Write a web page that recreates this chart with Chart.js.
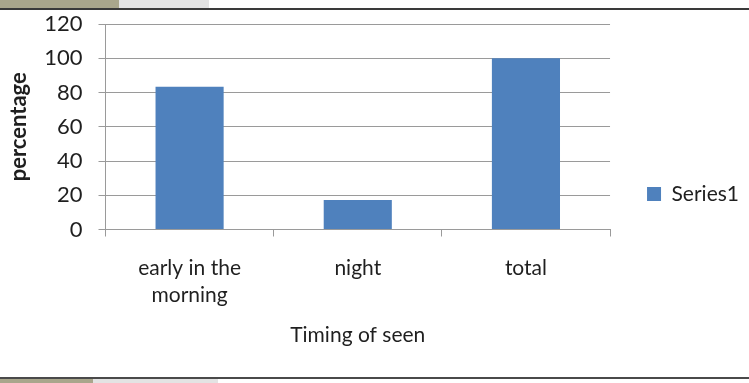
<!DOCTYPE html>
<html>
<head>
<meta charset="utf-8">
<script src="https://cdn.jsdelivr.net/npm/chart.js@4"></script>
<style>
  html, body { margin: 0; padding: 0; background: #fff; }
  #wrap { position: relative; width: 749px; height: 383px; overflow: hidden; background: #fff; }
  #c { position: absolute; left: 0; top: 0; }
  .strip { position: absolute; }
</style>
</head>
<body>
<div id="wrap">
  <canvas id="c" width="749" height="383"></canvas>
  <!-- slide frame: top and bottom rules with colour tabs -->
  <div class="strip" style="left:0;top:0;width:119px;height:8px;background:#a9a68c"></div>
  <div class="strip" style="left:119px;top:0;width:90px;height:8px;background:#e3e3e3"></div>
  <div class="strip" style="left:0;top:8px;width:749px;height:2px;background:#3a3a3a"></div>
  <div class="strip" style="left:0;top:377px;width:749px;height:2px;background:#4a4a4a"></div>
  <div class="strip" style="left:0;top:379px;width:93px;height:4px;background:#a9a68c"></div>
  <div class="strip" style="left:93px;top:379px;width:125px;height:4px;background:#e3e3e3"></div>
</div>
<script>
// Share of sightings by time of day
const categories = [["early in the", "morning"], "night", "total"];
const seriesName = "Series1";
const seriesValues = [83.3, 17.2, 100];
const yTickValues = [0, 20, 40, 60, 80, 100, 120];
const xTitle = "Timing of seen";
const yTitle = "percentage";

const FONT = 'Lato, "Open Sans", "DejaVu Sans", sans-serif';
const TEXT = '#1f1f1f';
const GRID = '#9a9a9a';
const BAR = '#4f81bd';

const PLOT_LEFT = 105.5;
const PLOT_BOTTOM = 229.5;
const CANVAS_H = 383;
const PAD_TOP = 24;
const PAD_BOTTOM = 19;

new Chart(document.getElementById('c'), {
  type: 'bar',
  data: {
    labels: categories,
    datasets: [{
      label: seriesName,
      data: seriesValues,
      backgroundColor: BAR,
      borderWidth: 0,
      barPercentage: 0.405,
      categoryPercentage: 1.0
    }]
  },
  options: {
    responsive: false,
    animation: false,
    devicePixelRatio: 1,
    layout: { padding: { left: 0, top: PAD_TOP, right: 0, bottom: PAD_BOTTOM } },
    plugins: {
      legend: {
        position: 'right',
        labels: {
          boxWidth: 14,
          boxHeight: 14,
          padding: 37,
          color: TEXT,
          font: { family: FONT, size: 21 }
        }
      },
      tooltip: { enabled: false }
    },
    scales: {
      x: {
        grid: { display: true, drawOnChartArea: false, offset: true, tickLength: 7, color: GRID, lineWidth: 1 },
        border: { color: GRID, width: 1 },
        ticks: {
          padding: 18,
          maxRotation: 0,
          autoSkip: false,
          color: TEXT,
          font: { family: FONT, size: 21, lineHeight: 1.3 }
        },
        title: {
          display: true,
          text: xTitle,
          color: TEXT,
          font: { family: FONT, size: 21 },
          padding: { top: 0, bottom: 16.5 }
        },
        afterFit(scale) { scale.height = CANVAS_H - PAD_BOTTOM - PLOT_BOTTOM; }
      },
      y: {
        min: 0,
        max: 120,
        afterBuildTicks(scale) { scale.ticks = yTickValues.map(v => ({ value: v })); },
        grid: { color: GRID, tickLength: 7, lineWidth: 1 },
        border: { color: GRID, width: 1 },
        ticks: {
          padding: 16,
          color: TEXT,
          font: { family: FONT, size: 22 }
        },
        title: {
          display: true,
          text: yTitle,
          color: TEXT,
          font: { family: FONT, size: 22, weight: 'bold' },
          padding: { top: 5.3, bottom: 0 }
        },
        afterFit(scale) {
          scale.width = PLOT_LEFT;
          scale.paddingTop = 0;
          scale.paddingBottom = 0;
        }
      }
    }
  }
});
</script>
</body>
</html>
